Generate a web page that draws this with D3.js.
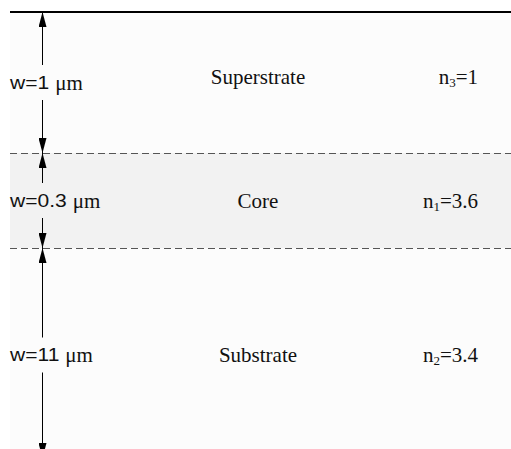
<!DOCTYPE html>
<html><head><meta charset="utf-8">
<script src="https://cdn.jsdelivr.net/npm/d3@7/dist/d3.min.js"></script>
<style>body{margin:0;background:#fff}svg{display:block}</style>
</head><body>
<svg id="c" width="511" height="449"></svg>
<script>
// Data
const layers = ["Superstrate", "Core", "Substrate"];
const widths = ["1", "0.3", "11"];          // thickness in µm
const indexSub = ["3", "1", "2"];           // subscript of n
const indexVal = ["1", "3.6", "3.4"];       // refractive index
const fills = ["#fcfcfc", "#f2f2f2", "#fcfcfc"];

const svg = d3.select("#c");
// layer boundary scale (schematic, not to scale)
const y = d3.scaleLinear().domain([0, 1, 2, 3]).range([12, 153, 248, 458]);
const x0 = 10, x1 = 511, ax = 42;

const defs = svg.append("defs");
["up", "down"].forEach(k => {
  defs.append("marker").attr("id", "m" + k)
    .attr("viewBox", "0 0 8 15").attr("refX", 4).attr("refY", k === "up" ? 0 : 15)
    .attr("markerWidth", 8).attr("markerHeight", 15).attr("markerUnits", "userSpaceOnUse")
    .attr("orient", "0")
    .append("path").attr("d", k === "up" ? "M4,0L8,15L0,15Z" : "M0,0L8,0L4,15Z").attr("fill", "#000");
});

const rows = layers.map((name, i) => ({ name, w: widths[i], sub: indexSub[i], n: indexVal[i], fill: fills[i], i }));

// backgrounds
svg.selectAll("rect.layer").data(rows).join("rect").attr("class", "layer")
  .attr("x", x0).attr("width", x1 - x0)
  .attr("y", d => y(d.i)).attr("height", d => y(d.i + 1) - y(d.i))
  .attr("fill", d => d.fill);

// top solid line
svg.append("line").attr("x1", x0).attr("x2", x1).attr("y1", y(0)).attr("y2", y(0))
  .attr("stroke", "#000").attr("stroke-width", 2);
// dashed interfaces
svg.selectAll("line.iface").data([1, 2]).join("line").attr("class", "iface")
  .attr("x1", x0).attr("x2", x1).attr("y1", d => y(d) + 0.5).attr("y2", d => y(d) + 0.5)
  .attr("stroke", "#555").attr("stroke-width", 1.2).attr("stroke-dasharray", "7,4");

const gap = 17.5;
rows.forEach(d => {
  const top = y(d.i), bot = y(d.i + 1);
  const mid = (top + bot) / 2 + (d.i === 2 ? 2 : 0);
  // upper arrow segment
  svg.append("line").attr("x1", ax + 0.5).attr("x2", ax + 0.5).attr("y1", mid - gap).attr("y2", top)
    .attr("stroke", "#000").attr("stroke-width", 1).attr("marker-end", "url(#mup)");
  svg.append("line").attr("x1", ax + 0.5).attr("x2", ax + 0.5).attr("y1", mid + gap).attr("y2", bot)
    .attr("stroke", "#000").attr("stroke-width", 1).attr("marker-end", "url(#mdown)");

  // left width label
  const g = svg.append("g").attr("transform", `translate(${x0},${mid})`);
  const t = g.append("text").attr("transform", "scale(1.17,1)")
    .attr("font-family", "Liberation Sans, Arial, sans-serif").attr("font-size", 18)
    .attr("dominant-baseline", "central").attr("fill", "#111").text("w=" + d.w);
  const len = t.node().getComputedTextLength() * 1.17 + 6;
  g.append("text").attr("x", len).attr("font-family", "Liberation Serif, Times New Roman, serif")
    .attr("font-size", 21).attr("dominant-baseline", "central").attr("fill", "#111").text("\u03bcm");

  const ty = mid - (d.i === 0 ? 6 : 0);
  // name
  svg.append("text").attr("x", 258).attr("y", ty).attr("text-anchor", "middle")
    .attr("dominant-baseline", "central")
    .attr("font-family", "Liberation Serif, Times New Roman, serif").attr("font-size", 21)
    .attr("fill", "#111").text(d.name);
  // index
  const nt = svg.append("text").attr("x", 478).attr("y", ty + 7).attr("text-anchor", "end")
    .attr("font-family", "Liberation Serif, Times New Roman, serif").attr("font-size", 21)
    .attr("fill", "#111");
  nt.append("tspan").text("n");
  nt.append("tspan").attr("font-size", 13).attr("dy", 3).text(d.sub);
  nt.append("tspan").attr("dy", -3).text("=" + d.n);
});
</script>
</body></html>
